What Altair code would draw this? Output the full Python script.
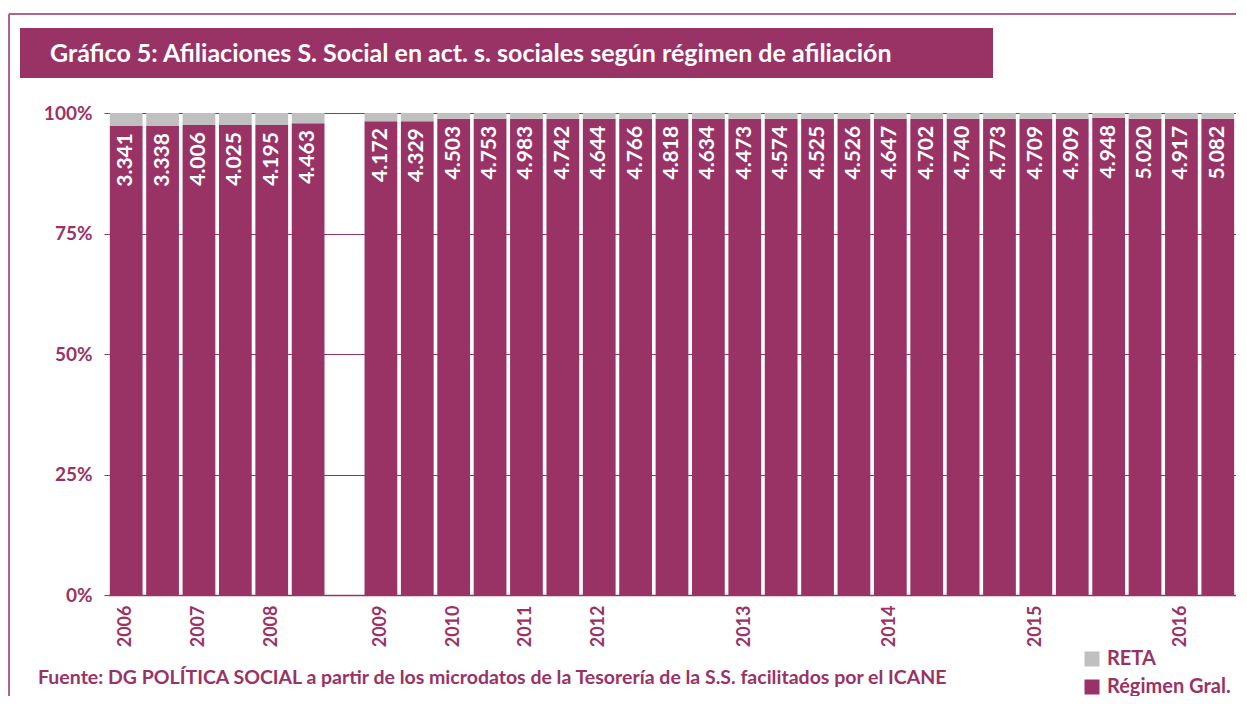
import altair as alt
import pandas as pd

# ---- data ----
periods = [
    "2006-1", "2006-2", "2007-1", "2007-2", "2008-1", "2008-2", "hueco",
    "2009-1", "2009-2", "2010-1", "2010-2", "2011-1", "2011-2",
    "2012-1", "2012-2", "2012-3", "2012-4",
    "2013-1", "2013-2", "2013-3", "2013-4",
    "2014-1", "2014-2", "2014-3", "2014-4",
    "2015-1", "2015-2", "2015-3", "2015-4",
    "2016-1", "2016-2",
]
tick_labels = [
    "2006", "", "2007", "", "2008", "", "",
    "2009", "", "2010", "", "2011", "",
    "2012", "", "", "",
    "2013", "", "", "",
    "2014", "", "", "",
    "2015", "", "", "",
    "2016", "",
]
regimen_gral = [
    3341, 3338, 4006, 4025, 4195, 4463, None,
    4172, 4329, 4503, 4753, 4983, 4742,
    4644, 4766, 4818, 4634,
    4473, 4574, 4525, 4526,
    4647, 4702, 4740, 4773,
    4709, 4909, 4948, 5020,
    4917, 5082,
]
reta = [
    93, 93, 103, 103, 108, 96, None,
    72, 75, 55, 58, 60, 58,
    56, 58, 59, 56,
    54, 56, 55, 55,
    56, 57, 58, 58,
    57, 60, 50, 61,
    60, 62,
]
series = ["RETA", "Régimen Gral."]
y_ticks = [0, 0.25, 0.5, 0.75, 1]

title_txt = "Gráfico 5: Afiliaciones S. Social en act. s. sociales según régimen de afiliación"
source_txt = ("Fuente: DG POLÍTICA SOCIAL a partir de los microdatos de la Tesorería "
              "de la S.S. facilitados por el ICANE")

PURPLE = "#993366"
GRAY = "#C0C0C0"
FRAME = "#B0648A"
FONT = "Lato"

rows, wide = [], []
for p, g, r in zip(periods, regimen_gral, reta):
    if g is None:
        continue
    rows.append({"periodo": p, "serie": "Régimen Gral.", "orden": 0, "valor": g})
    rows.append({"periodo": p, "serie": "RETA", "orden": 1, "valor": r})
    wide.append({"periodo": p, "rg": g, "reta": r})
long_df = pd.DataFrame(rows)
wide_df = pd.DataFrame(wide)
decor = pd.DataFrame({"k": [0]})

label_expr = (
    "[" + ",".join(f"'{t}'" for t in tick_labels) + "]"
    + "[indexof([" + ",".join(f"'{p}'" for p in periods) + "], datum.value)]"
)

x_scale = alt.Scale(domain=periods, paddingInner=0.1, paddingOuter=0.05)
x_enc = alt.X(
    "periodo:N", scale=x_scale, sort=periods,
    axis=alt.Axis(
        title=None, labelExpr=label_expr, labelAngle=270, labelAlign="right",
        labelBaseline="middle", labelPadding=10, ticks=False,
        domainColor=PURPLE, domainWidth=1.5, labelFont=FONT, labelFontSize=18,
        labelFontWeight="bold", labelColor=PURPLE,
    ),
)
y_scale = alt.Scale(domain=[0, 1])

bars = alt.Chart(long_df).mark_bar().encode(
    x=x_enc,
    y=alt.Y(
        "valor:Q", stack="normalize", scale=y_scale,
        axis=alt.Axis(
            title=None, values=y_ticks, format=".0%", grid=True,
            gridColor=PURPLE, gridWidth=1, domain=False, tickColor=PURPLE,
            tickSize=4, labelPadding=12, labelFont=FONT, labelFontSize=19,
            labelFontWeight="bold", labelColor=PURPLE,
        ),
    ),
    color=alt.Color(
        "serie:N", scale=alt.Scale(domain=series, range=[GRAY, PURPLE]),
        legend=alt.Legend(title=None),
    ),
    order=alt.Order("orden:Q", sort="ascending"),
)

labels = alt.Chart(wide_df).transform_calculate(
    frac="datum.rg / (datum.rg + datum.reta)",
    etiqueta="replace(format(datum.rg, ','), ',', '.')",
).mark_text(
    angle=270, align="right", baseline="middle", dx=-7,
    font=FONT, fontSize=21, fontWeight="bold", color="white",
).encode(
    x=alt.X("periodo:N", scale=x_scale, sort=periods),
    y=alt.Y("frac:Q", scale=y_scale),
    text="etiqueta:N",
)

frame_top = alt.Chart(decor).mark_rule(color=FRAME, strokeWidth=2).encode(
    x=alt.value(-99), x2=alt.value(1140), y=alt.value(-99)
)
frame_left = alt.Chart(decor).mark_rule(color=FRAME, strokeWidth=2).encode(
    x=alt.value(-99), y=alt.value(-99), y2=alt.value(600)
)
band = alt.Chart(decor).mark_rect(color=PURPLE).encode(
    x=alt.value(-88), x2=alt.value(885), y=alt.value(-85), y2=alt.value(-35)
)
title_mark = alt.Chart(decor).mark_text(
    text=title_txt, align="left", baseline="middle", font=FONT,
    fontSize=25, fontWeight="bold", color="white",
).encode(x=alt.value(-58), y=alt.value(-59))
source_mark = alt.Chart(decor).mark_text(
    text=source_txt, align="left", baseline="middle", font=FONT,
    fontSize=19.5, fontWeight="bold", color=PURPLE,
).encode(x=alt.value(-70), y=alt.value(565))

chart = alt.layer(
    frame_top, frame_left, band, title_mark, bars, labels, source_mark
).properties(
    width=1128, height=482,
    autosize=alt.AutoSizeParams(type="none"),
    padding={"left": 100, "top": 105, "right": 0, "bottom": 101},
    background="white",
).configure_view(stroke=None).configure_legend(
    orient="none", legendX=974, legendY=536, symbolType="square",
    symbolSize=225, symbolStrokeWidth=0, labelFont=FONT, labelFontSize=20,
    labelFontWeight="bold", labelColor=PURPLE, rowPadding=8, labelOffset=5,
    padding=0,
)

chart.save("out.html", embed_options={"renderer": "svg", "actions": False})
